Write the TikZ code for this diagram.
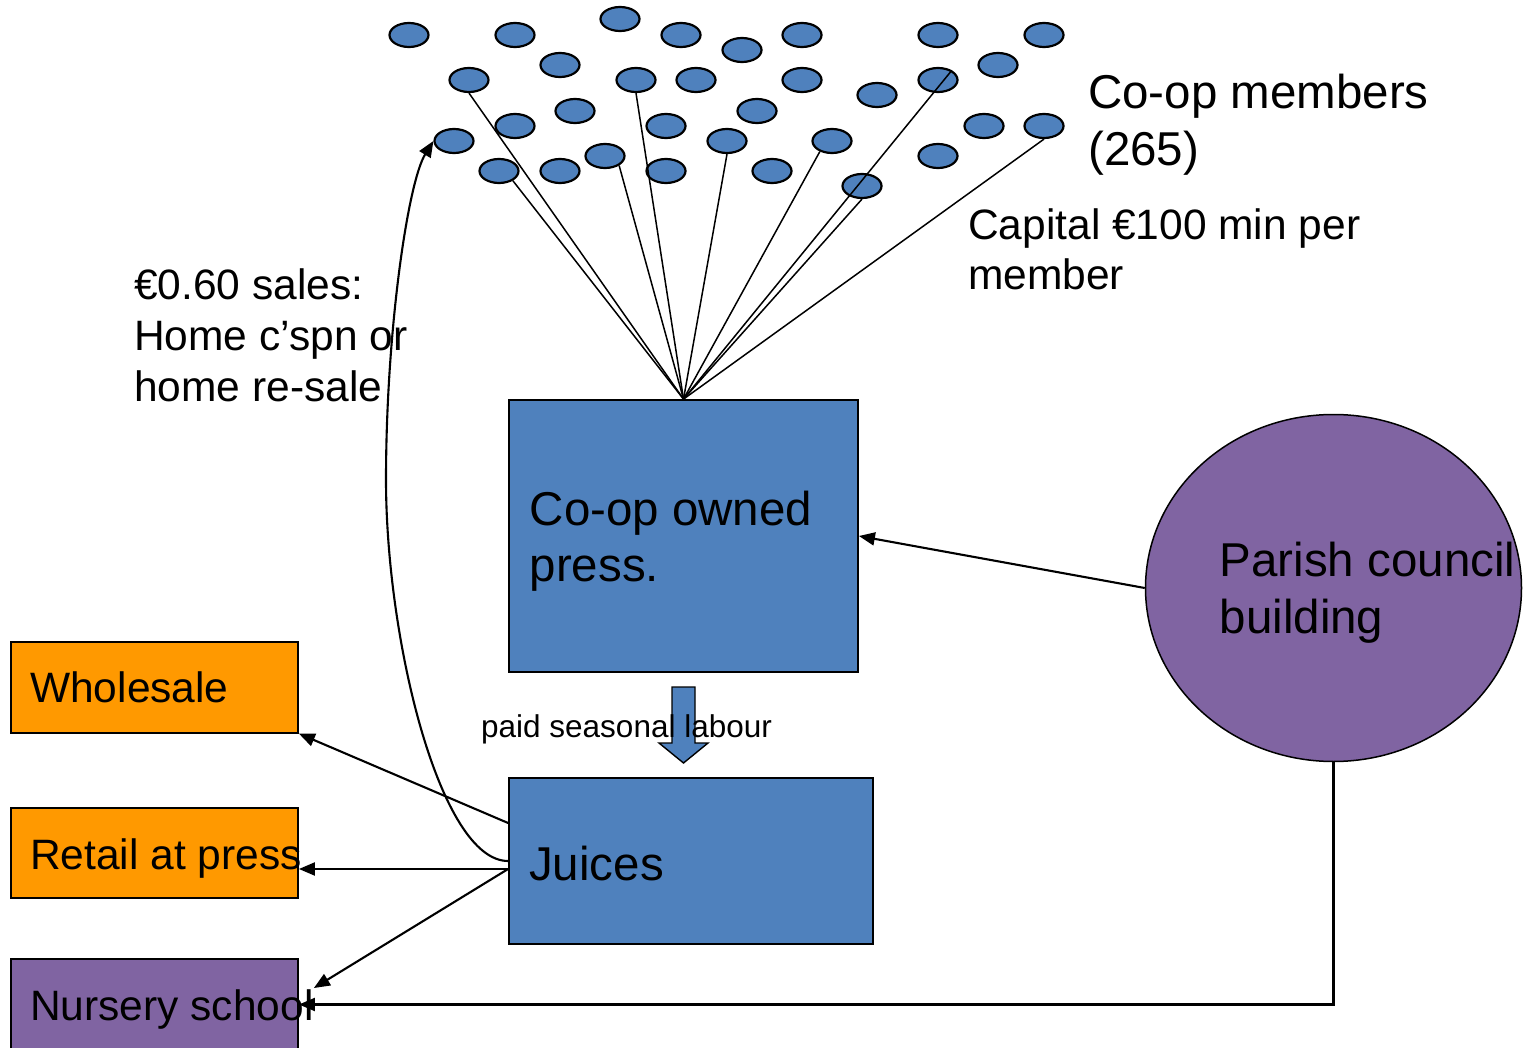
\documentclass[tikz,border=0pt]{standalone}
\usepackage{fontspec}
\setmainfont{Liberation Sans}
\usetikzlibrary{shapes.geometric,arrows.meta}
\definecolor{boxblue}{RGB}{79,129,189}
\definecolor{boxorange}{RGB}{255,153,0}
\definecolor{boxpurple}{RGB}{128,100,162}
\begin{document}
\begin{tikzpicture}[x=1pt,y=-1pt,
  member/.style={ellipse,draw=black,line width=2.2pt,fill=boxblue,
    minimum width=39pt,minimum height=24pt,inner sep=0pt},
  unitbox/.style={rectangle,draw=black,line width=1.8pt,inner sep=0pt},
  textbig/.style={font=\fontsize{47.5}{56.5}\selectfont,inner sep=0pt,anchor=base west,align=left},
  textmid/.style={font=\fontsize{42.5}{50}\selectfont,inner sep=0pt,anchor=base west,align=left},
  textsmall/.style={font=\fontsize{31.5}{36}\selectfont,inner sep=0pt,anchor=base west},
  fanline/.style={line width=1.5pt},
  flowarrow/.style={line width=2.1pt,-{Triangle[length=16pt,width=13pt]}}
]
\useasboundingbox (0,0) rectangle (1523,1048);
\fill[white] (0,0) rectangle (1523,1048);

% co-op members
\foreach \i/\x/\y in {1/409/35, 2/515/35, 3/620/19, 4/681/35, 5/742/50, 6/802/35,
  7/938/35, 8/1044/35, 9/560/65, 10/998/65, 11/469/80, 12/636/80, 13/696/80,
  14/802/80, 15/938/80, 16/877/95, 17/575/111, 18/757/111, 19/515/126,
  20/666/126, 21/984/126, 22/1044/126, 23/454/141, 24/727/141, 25/832/141,
  26/605/156, 27/938/156, 28/499/171, 29/560/171, 30/666/171, 31/772/171,
  32/862/186}
  \node[member] (m\i) at (\x,\y) {};

% boxes
\node[unitbox,fill=boxblue,minimum width=349pt,minimum height=272pt] (press) at (683.5,536) {};
\node[unitbox,fill=boxblue,minimum width=364pt,minimum height=166pt] (juices) at (691,861) {};
\node[unitbox,fill=boxorange,minimum width=287pt,minimum height=91pt] (wholesale) at (154.5,687.2) {};
\node[unitbox,fill=boxorange,minimum width=287pt,minimum height=90pt] (retail) at (154.5,853) {};
\node[unitbox,fill=boxpurple,minimum width=287pt,minimum height=91pt] (nursery) at (154.5,1004.5) {};
\node[ellipse,draw=black,line width=1.5pt,fill=boxpurple,inner sep=0pt,
  minimum width=376pt,minimum height=347pt] (parish) at (1333.5,588) {};

% labour arrow between the press and the juices
\draw[line width=1.4pt,fill=boxblue] (672,687) -- (695,687) -- (695,743) -- (708,743)
  -- (683.5,763) -- (659,743) -- (672,743) -- cycle;

% texts (anchored at the baseline of their last line)
\node[textbig,font=\fontsize{47.5}{57.5}\selectfont] (tmembers) at (1088,166) {Co-op members\\(265)};
\node[textmid] (tcapital) at (968,290) {Capital €100 min per\\member};
\node[textmid,font=\fontsize{42.5}{51}\selectfont] (tsales) at (134,401.7) {€0.60 sales:\\Home c’spn or\\home re-sale};
\node[textbig] (tpress) at (529.5,581.7) {Co-op owned\\press.};
\node[textbig] (tparish) at (1219.5,633.3) {Parish council\\building};
\node[textbig] (tjuices) at (529,880) {Juices};
\node[textmid] (twholesale) at (30,702.7) {Wholesale};
\node[textmid] (tretail) at (30,869.3) {Retail at press};
\node[textmid] (tnursery) at (30,1020) {Nursery school};
\node[textsmall] (tlabour) at (481,737) {paid seasonal labour};

% members' capital flowing into the press
\foreach \a in {m11.south, m28.325, m26.326, m12.south, m24.south, m25.221,
  m15.35, m32.south, m22.south}
  \draw[fanline] (\a) -- (press.north);

% sales flows
\coordinate (bend) at (386,480);
\draw[flowarrow] (juices.west) .. controls (440,861) and (386,640) .. (bend)
  .. controls (386,330) and (408,182) .. (m23.west);
\draw[flowarrow] ([yshift=38pt]juices.west) -- (wholesale.south east);
\draw[flowarrow] ([yshift=-8pt]juices.west) -- ([yshift=-16pt]retail.east);
\draw[flowarrow] ([yshift=-8pt]juices.west) -- ([xshift=15pt,yshift=16.5pt]nursery.east);
\draw[flowarrow] (parish.west) -- (press.east);
\draw[flowarrow] (parish.south) |- (nursery.east);
\end{tikzpicture}
\end{document}
